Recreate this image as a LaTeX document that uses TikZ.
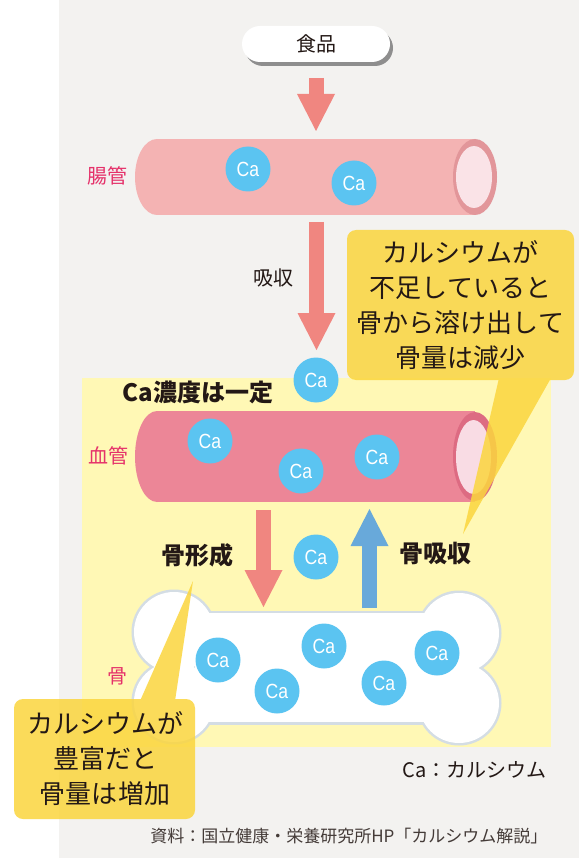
\documentclass[tikz,border=0pt]{standalone}
\usepackage{fontspec}
\setmainfont{Noto Sans CJK JP}
\newfontfamily\cafont{Liberation Sans}[FakeStretch=0.86]
\usetikzlibrary{arrows.meta,shadows}

\definecolor{pagegray}{HTML}{F3F2F0}
\definecolor{zoneyellow}{HTML}{FFF8B5}
\definecolor{salmon}{HTML}{F08680}
\definecolor{boneblue}{HTML}{68A9DA}
\definecolor{gutbody}{HTML}{F4B3B3}
\definecolor{gutring}{HTML}{E2969A}
\definecolor{gutinner}{HTML}{FAE3E7}
\definecolor{bloodbody}{HTML}{EC8697}
\definecolor{bloodring}{HTML}{DD6B82}
\definecolor{bloodinner}{HTML}{F9DCE4}
\definecolor{cablue}{HTML}{5BC4F1}
\definecolor{calloutyellow}{HTML}{FBD63F}
\definecolor{boneline}{HTML}{D4DDE4}
\definecolor{shadowgray}{HTML}{8E8E8E}
\definecolor{inkdark}{HTML}{231815}
\definecolor{organred}{HTML}{E5316A}

\tikzset{
  ca/.style={circle, fill=cablue, minimum size=45pt, inner sep=0pt,
    text=white, font=\cafont\fontsize{20.5}{20.5}\selectfont},
  organ/.style={text=organred, font=\fontsize{20}{20}\selectfont},
  steplabel/.style={text=inkdark, font=\fontsize{20}{20}\selectfont},
  boldlabel/.style={text=inkdark, font=\bfseries\fontsize{24}{24}\selectfont},
  callouttext/.style={text=inkdark, align=center, font=\fontsize{26}{35}\selectfont},
  flowarrow/.style={line width=15pt, -{Triangle[width=38pt,length=37pt,line width=0pt]}},
  foodbox/.style={fill=white, rounded corners=18pt, minimum width=148pt,
    minimum height=36pt, inner sep=0pt, text=inkdark, font=\fontsize{20}{20}\selectfont,
    drop shadow={shadow xshift=3pt, shadow yshift=-4pt, fill=shadowgray, opacity=1}},
}

\begin{document}
\begin{tikzpicture}[x=1pt,y=-1pt]
\useasboundingbox (0,0) rectangle (579,858);
\fill[white] (0,0) rectangle (579,858);
\fill[pagegray] (59,0) rectangle (579,858);
\fill[zoneyellow] (82,378) rectangle (551,747);

% food
\node[foodbox] (food) at (316,44) {食品};

% intestine tube
\fill[gutbody] (157,177) ellipse [x radius=22, y radius=38];
\fill[gutbody] (157,139) rectangle (475,215);
\fill[gutring] (475,177) ellipse [x radius=22, y radius=38];
\fill[gutinner] (474,177) ellipse [x radius=18, y radius=31];
\node[organ] (gutlabel) at (107.5,176) {腸管};

% blood vessel tube
\fill[bloodbody] (157,456.5) ellipse [x radius=22, y radius=45.5];
\fill[bloodbody] (157,411) rectangle (475,502);
\fill[bloodring] (475,456.5) ellipse [x radius=22, y radius=44.5];
\fill[bloodinner] (473.5,457) ellipse [x radius=17.5, y radius=37];
\node[organ] (bloodlabel) at (108,456) {血管};

% bone: thick outline pass, then white fill pass
\begin{scope}
  \foreach \fillstyle in {{draw=boneline, line width=5pt, fill=boneline},{fill=white}}{
    \path[style/.expanded=\fillstyle] (174,632) circle [radius=40];
    \path[style/.expanded=\fillstyle] (174,702) circle [radius=40];
    \path[style/.expanded=\fillstyle] (459,633) circle [radius=40];
    \path[style/.expanded=\fillstyle] (459,703) circle [radius=40];
    \path[style/.expanded=\fillstyle] (195,613) rectangle (440,722);
  }
\end{scope}
\node[organ] (bonelabel) at (117.5,676) {骨};

% arrows
\coordinate (a1s) at (316,78);  \coordinate (a1e) at (316,131);
\coordinate (a2s) at (316.5,222); \coordinate (a2e) at (316.5,350);
\coordinate (a3s) at (263.5,510); \coordinate (a3e) at (263.5,607);
\coordinate (a4s) at (369.5,608); \coordinate (a4e) at (369.5,509);
\draw[flowarrow, salmon] (a1s) -- (a1e);
\draw[flowarrow, salmon] (a2s) -- (a2e);
\draw[flowarrow, salmon] (a3s) -- (a3e);
\draw[flowarrow, boneblue] (a4s) -- (a4e);

% labels
\node[steplabel] (absorb) at (273.5,278) {吸収};
\node[boldlabel] (constant) at (198,392) {Ca濃度は一定};
\node[boldlabel] (formation) at (197,555) {骨形成};
\node[boldlabel] (resorption) at (435,553.5) {骨吸収};

% calcium ions
\node[ca] (g1) at (248,169) {Ca};
\node[ca] (g2) at (354,183) {Ca};
\node[ca] (m1) at (316,380) {Ca};
\node[ca] (v1) at (210,441) {Ca};
\node[ca] (v2) at (301,471) {Ca};
\node[ca] (v3) at (377,457) {Ca};
\node[ca] (m2) at (316,557) {Ca};
\node[ca] (b1) at (218,660) {Ca};
\node[ca] (b2) at (277,691) {Ca};
\node[ca] (b3) at (324,646) {Ca};
\node[ca] (b4) at (384,683) {Ca};
\node[ca] (b5) at (437,653) {Ca};

% callouts
\begin{scope}[transparency group, opacity=0.86]
  \fill[calloutyellow, rounded corners=9pt] (347,230) rectangle (574,380);
  \fill[calloutyellow] (499,378) -- (551,378) -- (463,534) -- cycle;
\end{scope}
\node[callouttext] (shortage) at (460.5,305) {カルシウムが\\不足していると\\骨から溶け出して\\骨量は減少};

\begin{scope}[transparency group, opacity=0.86]
  \fill[calloutyellow, rounded corners=9pt] (14,699) rectangle (195,819);
  \fill[calloutyellow] (140,701) -- (175,701) -- (193,581) -- cycle;
\end{scope}
\node[callouttext] (plenty) at (105,759) {カルシウムが\\豊富だと\\骨量は増加};

% legend and source
\node[anchor=east, text=inkdark, font=\fontsize{20}{20}\selectfont] (legend) at (550,770) {Ca：カルシウム};
\node[anchor=east, text=inkdark!85, font=\fontsize{17}{17}\selectfont] (source) at (551,836) {資料：国立健康・栄養研究所HP「カルシウム解説」};
\end{tikzpicture}
\end{document}
